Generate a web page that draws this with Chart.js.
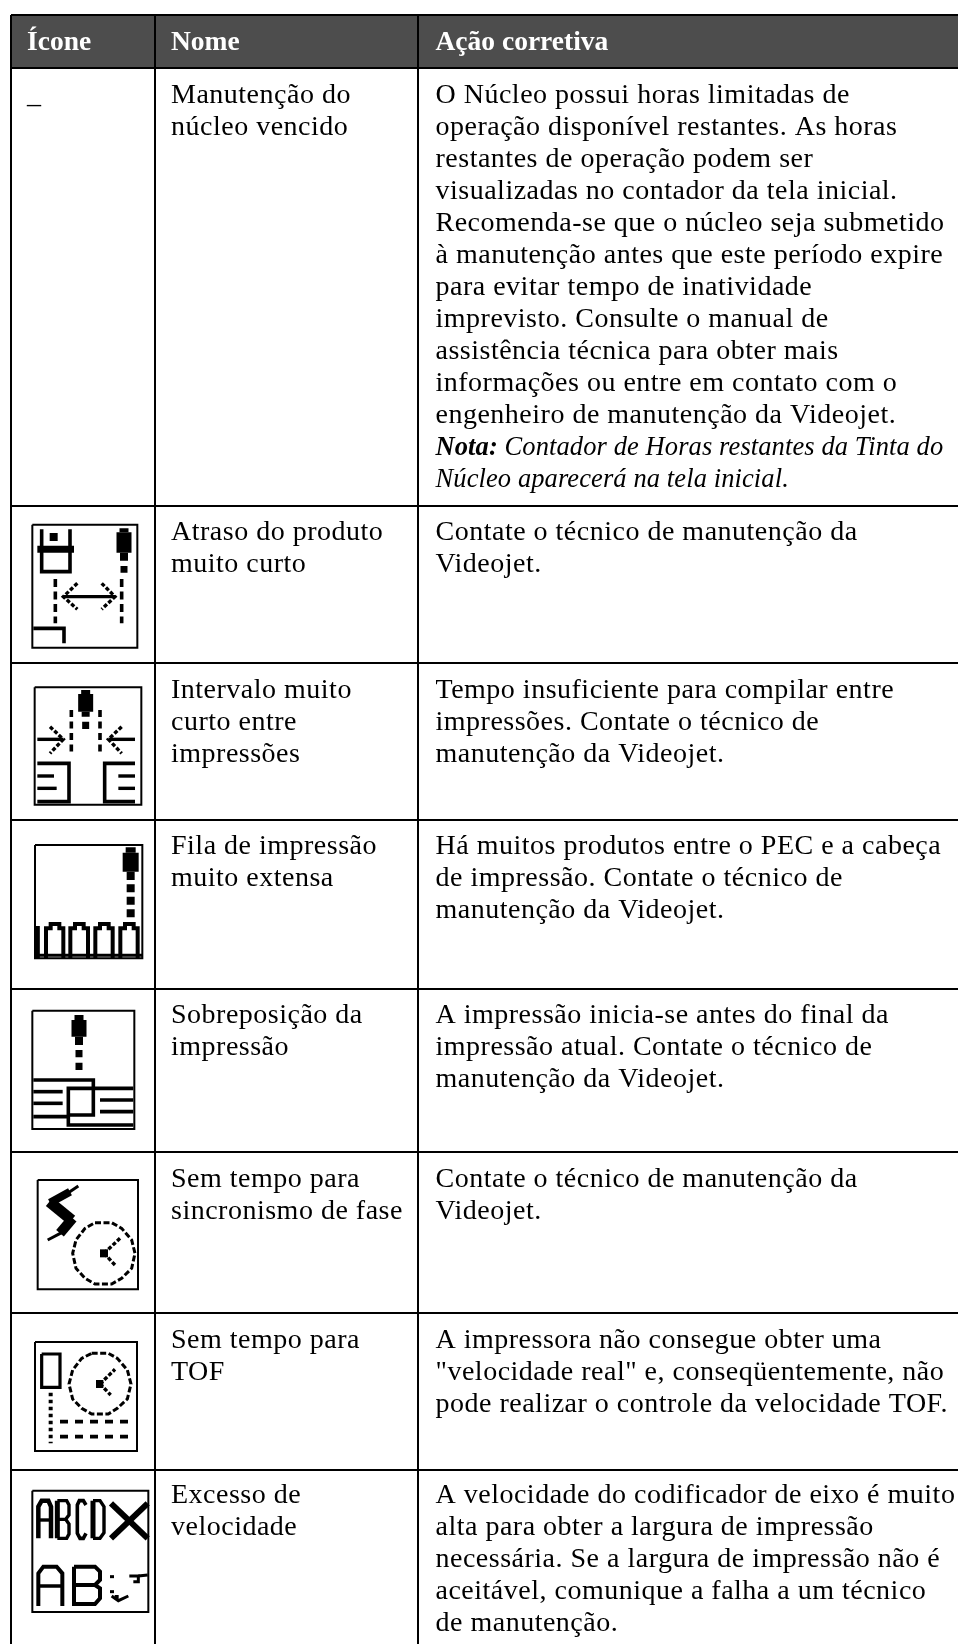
<!DOCTYPE html>
<html><head><meta charset="utf-8">
<style>html,body{margin:0;padding:0;background:#fff}canvas{display:block}</style>
<script src="https://cdn.jsdelivr.net/npm/chart.js@4"></script></head>
<body><canvas id="c" width="958" height="1644"></canvas>
<script>
const headers = ["Ícone","Nome","Ação corretiva"];
const iconText = ["_"];
const names = [
 ["Manutenção do","núcleo vencido"],
 ["Atraso do produto","muito curto"],
 ["Intervalo muito","curto entre","impressões"],
 ["Fila de impressão","muito extensa"],
 ["Sobreposição da","impressão"],
 ["Sem tempo para","sincronismo de fase"],
 ["Sem tempo para","TOF"],
 ["Excesso de","velocidade"]
];
const actions = [
 ["O Núcleo possui horas limitadas de","operação disponível restantes. As horas","restantes de operação podem ser","visualizadas no contador da tela inicial.","Recomenda-se que o núcleo seja submetido","à manutenção antes que este período expire","para evitar tempo de inatividade","imprevisto. Consulte o manual de","assistência técnica para obter mais","informações ou entre em contato com o","engenheiro de manutenção da Videojet."],
 ["Contate o técnico de manutenção da","Videojet."],
 ["Tempo insuficiente para compilar entre","impressões. Contate o técnico de","manutenção da Videojet."],
 ["Há muitos produtos entre o PEC e a cabeça","de impressão. Contate o técnico de","manutenção da Videojet."],
 ["A impressão inicia-se antes do final da","impressão atual. Contate o técnico de","manutenção da Videojet."],
 ["Contate o técnico de manutenção da","Videojet."],
 ["A impressora não consegue obter uma","\"velocidade real\" e, conseqüentemente, não","pode realizar o controle da velocidade TOF."],
 ["A velocidade do codificador de eixo é muito","alta para obter a largura de impressão","necessária. Se a largura de impressão não é","aceitável, comunique a falha a um técnico","de manutenção."]
];
const noteLabel = "Nota:";
const noteLines = [" Contador de Horas restantes da Tinta do","Núcleo aparecerá na tela inicial."];

const colEdges = [11,155,418];
const rowEdges = [15,68,506,663,820,989,1152,1313,1470];
const textCols = [27,171,435.5];
const rowBaselines = [102.5,539.5,698,854,1022.5,1187,1347.5,1502.5];
const headerBaseline = 50;
const lineStep = 32;

/* icon strokes: [width, dash, x,y, x,y, ...], at 3x crop units */
const iconPlug = {ox:0,oy:500,s:[
 [2,0,97,74,412,74,412,443,97,443,97,74],
 [3.6,0,125,88,125,215,210,215,210,88],
 [8,0,149,111,173,111],
 [7,0,112,148,222,148],
 [15,0,372,97,372,158],[9,0,372,85,372,97],
 [8,0,372,158,372,182],[7,0,372,198,372,218],
 [3.6,[8,4.5],166,237,166,370],[3.6,[8,4.5],365,237,365,370],
 [3.4,0,190,290,345,290],
 [3.4,[4,2],232,250,190,290,232,328],[3.4,[4,2],305,250,345,290,305,328],
 [3.6,0,100,385,192,385,192,430]
]};
const iconGap = {ox:0,oy:500,s:[
 [2,0,104,562,424,562,424,914,104,914,104,562],
 [15,0,257,582,257,635],[9,0,257,570,257,582],[8,0,257,635,257,650],[7,0,257,665,257,687],
 [3.6,[7,4.5],214,630,214,760],[3.6,[7,4.5],300,630,300,760],
 [3.4,0,112,718,190,718],[3.4,[4,2],150,680,190,718,150,760],
 [3.4,0,405,718,325,718],[3.4,[4,2],365,680,325,718,365,760],
 [3.6,0,112,790,207,790,207,905,112,905],[3.4,0,112,828,162,828],[3.4,0,112,865,170,865],
 [3.6,0,405,790,314,790,314,905,405,905],[3.4,0,355,828,405,828],[3.4,0,355,865,405,865]
]};
const iconQueue = {ox:20,oy:830,s:[
 [2,0,45,45,367,45,367,385,45,385,45,45],
 [16,0,332,68,332,125],[10,0,332,52,332,68],[8,0,332,125,332,150],
 [8,0,332,163,332,187],[8,0,332,200,332,224],[8,0,332,238,332,262],
 [4,0,78,385,78,295,92,295,92,282,118,282,118,295,130,295,130,385],
 [4,0,151,385,151,295,165,295,165,282,191,282,191,295,204,295,204,385],
 [4,0,226,385,226,295,240,295,240,282,266,282,266,295,278,295,278,385],
 [4,0,301,385,301,295,315,295,315,282,341,282,341,295,353,295,353,385],
 [5,0,52,288,52,385],[3,0,45,376,367,376]
]};
const iconOverlap = {ox:0,oy:900,s:[
 [2,0,97,332,403,332,403,687,97,687,97,332],
 [15,0,237,360,237,410],[9,0,237,345,237,360],[8,0,237,410,237,435],[7,0,237,450,237,472],[7,0,237,488,237,510],
 [3.6,0,100,540,280,540,280,645,205,645,205,565,280,565],
 [3.6,0,100,575,188,575],[3.6,0,100,610,188,610],[3.6,0,100,650,205,650],
 [3.6,0,205,645,205,675,400,675],[3.6,0,283,565,400,565],[3.6,0,300,600,400,600],[3.6,0,300,635,400,635]
]};
const iconPhase = {ox:0,oy:900,s:[
 [2,0,113,840,414,840,414,1168,113,1168,113,840],
 [3,0,235,858,205,878],[8,0,210,875,150,908],[11,0,148,905,215,960],[10,0,218,955,180,1000],[3,0,185,998,143,1020],
 [3,[6,2.5],285,968,335,968,365,985,395,1020,405,1060,395,1105,365,1135,335,1152,285,1152,255,1135,228,1105,218,1060,228,1020,255,985,285,968],
 [8,0,300,1060,324,1060],[3.4,[4,2],312,1060,360,1015],[3.4,[4,2],312,1060,345,1095]
]};
const iconTof = {ox:0,oy:1280,s:[
 [2,0,105,186,411,186,411,513,105,513,105,186],
 [3.2,0,125,222,180,222,180,322,125,322,125,222],
 [3,[6,2.5],275,220,325,220,352,235,382,270,393,312,382,357,352,385,325,402,275,402,245,385,218,357,207,312,218,270,245,235,275,220],
 [8,0,288,312,310,312],[3.4,[4,2],300,312,345,268],[3.4,[4,2],300,312,332,345],
 [4,[3.5,3.5],152,338,152,490],
 [3.6,[8,7],180,425,385,425],[3.6,[8,7],180,470,385,470]
]};
const iconSpeed = {ox:0,oy:1280,s:[
 [2,0,97,632,445,632,445,996,97,996,97,632],
 [4.5,0,115,775,115,680,125,662,145,662,153,680,153,775],[3.4,0,115,720,153,720],
 [5,0,172,662,172,775],[3.4,0,172,662,200,662,207,675,207,705,197,718,172,718],[3.4,0,197,718,207,732,207,762,200,775,172,775],
 [3.6,0,258,675,250,662,238,662,232,675,232,760,240,775,250,775,258,760],
 [5,0,279,662,279,775],[3.4,0,279,662,300,662,312,680,312,758,300,775,279,775],
 [6,0,333,670,443,775],[6,0,443,670,333,775],
 [4,0,115,978,115,880,130,860,170,860,187,880,187,978],[3.5,0,115,918,187,918],
 [4,0,222,860,222,972,285,972,300,955,300,925,285,915,222,915],[4,0,222,860,285,860,300,875,300,900,285,915],
 [3,0,330,890,342,890],[3,0,330,935,342,935],
 [3,0,335,948,355,962,385,948],[4,0,350,945,350,958],
 [3,0,388,888,415,888,415,905,400,905],[3,0,415,888,443,885]
]};
const icons = [iconPlug,iconGap,iconQueue,iconOverlap,iconPhase,iconTof,iconSpeed];

const datasets = [];
icons.forEach(ic=>ic.s.forEach(st=>{
  const data=[];
  for(let i=2;i<st.length;i+=2) data.push({x:ic.ox+st[i]/3,y:ic.oy+st[i+1]/3});
  datasets.push({data,showLine:true,pointRadius:0,borderColor:'#000',borderWidth:st[0],
    borderDash:st[1]||[],borderCapStyle:'butt',borderJoinStyle:'miter',fill:false,tension:0,clip:false});
}));

const FONT='"Liberation Serif"', SIZE=28, HEAD_SIZE=27.5, NOTE_SIZE=26.5, SPACING='0.5px', HEAD_SPACING='0px', NOTE_SPACING='0.1px';
const tablePlugin={
 id:'table',
 beforeDraw(ch){
  const {x,y}=ch.scales,c=ch.ctx;
  c.save();c.fillStyle='#4d4d4d';
  c.fillRect(x.getPixelForValue(colEdges[0]),y.getPixelForValue(rowEdges[0]),x.right-x.left,y.getPixelForValue(rowEdges[1])-y.getPixelForValue(rowEdges[0]));
  c.restore();
 },
 afterDraw(ch){
  const {x,y}=ch.scales,c=ch.ctx;
  const put=(t,col,b,font,color)=>{c.font=font;c.fillStyle=color||'#000';c.fillText(t,x.getPixelForValue(col),y.getPixelForValue(b));};
  c.save();c.textBaseline='alphabetic';c.textAlign='left';
  const reg=`${SIZE}px ${FONT}`,bold=`bold ${HEAD_SIZE}px ${FONT}`;
  c.letterSpacing=HEAD_SPACING;
  headers.forEach((h,i)=>put(h,textCols[i],headerBaseline,bold,'#fff'));
  c.letterSpacing=SPACING;
  put(iconText[0],textCols[0],rowBaselines[0],reg);
  names.forEach((ls,r)=>ls.forEach((t,i)=>put(t,textCols[1],rowBaselines[r]+i*lineStep,reg)));
  actions.forEach((ls,r)=>ls.forEach((t,i)=>put(t,textCols[2],rowBaselines[r]+i*lineStep,reg)));
  const nb=rowBaselines[0]+actions[0].length*lineStep;
  c.letterSpacing=NOTE_SPACING;
  const bi=`italic bold ${NOTE_SIZE}px ${FONT}`,it=`italic ${NOTE_SIZE}px ${FONT}`;
  put(noteLabel,textCols[2],nb,bi);
  const w=c.measureText(noteLabel).width;
  put(noteLines[0],textCols[2]+w,nb,it);
  put(noteLines[1],textCols[2],nb+lineStep,it);
  c.restore();
 }
};
new Chart(document.getElementById('c'),{
 type:'scatter',
 data:{datasets},
 plugins:[tablePlugin],
 options:{
  responsive:false,animation:false,devicePixelRatio:1,
  layout:{padding:{left:11,top:15,right:0,bottom:0}},
  plugins:{legend:{display:false},tooltip:{enabled:false},title:{display:false}},
  scales:{
   x:{type:'linear',min:11,max:958,
      afterBuildTicks:a=>{a.ticks=colEdges.map(v=>({value:v}));},
      ticks:{display:false},border:{display:false},
      grid:{color:'#000',lineWidth:2,drawTicks:false}},
   y:{type:'linear',reverse:true,min:15,max:1644,
      afterBuildTicks:a=>{a.ticks=rowEdges.map(v=>({value:v}));},
      ticks:{display:false},border:{display:false},
      grid:{color:'#000',lineWidth:2,drawTicks:false}}
  }
 }
});
</script></body></html>
